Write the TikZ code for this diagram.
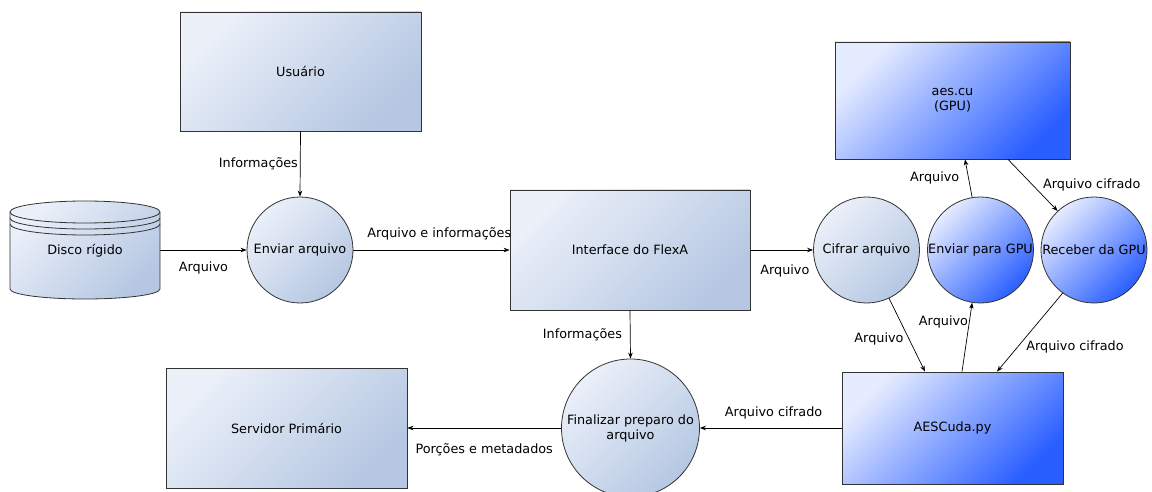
\documentclass[tikz,border=0pt]{standalone}
\usepackage{fontspec}
\setmainfont{DejaVu Sans}
\usetikzlibrary{arrows.meta}
\definecolor{paleA}{HTML}{EBF0F9}
\definecolor{paleB}{HTML}{B5C7E2}
\definecolor{blueA}{HTML}{E6ECFF}
\definecolor{blueB}{HTML}{2A5FFF}
\definecolor{edge}{HTML}{333333}
\tikzset{
  txt/.style={font=\fontsize{12.8}{15}\selectfont},
  palebox/.style={txt, rectangle, draw=edge, line width=0.8pt, top color=paleA, bottom color=paleB, shading angle=45, inner sep=0pt},
  bluebox/.style={txt, rectangle, draw=edge, line width=0.8pt, top color=blueA, bottom color=blueB, shading angle=45, inner sep=0pt},
  paleproc/.style={palebox, circle},
  blueproc/.style={bluebox, circle},
  flow/.style={-{Stealth[length=6pt,width=4.5pt]}, line width=0.7pt, draw=black},
  lbl/.style={txt, inner sep=1pt}
}
\begin{document}
\begin{tikzpicture}[x=1pt,y=-1pt]
\useasboundingbox (0,0) rectangle (1152,492);

% boxes
\node[palebox, minimum width=241pt, minimum height=119pt] (user) at (300.5,71.5) {Usuário};
\node[palebox, minimum width=240pt, minimum height=120pt] (flexa) at (630,250) {Interface do FlexA};
\node[palebox, minimum width=241pt, minimum height=120pt] (server) at (286.5,428) {Servidor Primário};
\node[bluebox, minimum width=235pt, minimum height=117pt, align=center] (aescu) at (952.5,100.5) {aes.cu\\(GPU)};
\node[bluebox, minimum width=221pt, minimum height=112pt] (aespy) at (952.5,428) {AESCuda.py};

% processes
\node[paleproc, minimum size=106pt] (send) at (300,250) {Enviar arquivo};
\node[paleproc, minimum size=106pt] (cipher) at (866.5,250) {Cifrar arquivo};
\node[blueproc, minimum size=106pt] (togpu) at (980.5,250) {Enviar para GPU};
\node[blueproc, minimum size=106pt] (fromgpu) at (1094,250) {Receber da GPU};
\node[paleproc, minimum size=138pt, align=center] (final) at (630.5,428) {Finalizar preparo do\\arquivo};

% hard disk drawn as a cylinder with two rings under the lid
\shade[top color=paleA, bottom color=paleB, shading angle=45]
  (10,212) -- (10,289) arc[start angle=180, end angle=360, x radius=75pt, y radius=10pt]
  -- (160,212) arc[start angle=0, end angle=180, x radius=75pt, y radius=11pt] -- cycle;
\draw[edge, line width=0.8pt]
  (10,212) -- (10,289) arc[start angle=180, end angle=360, x radius=75pt, y radius=10pt] -- (160,212);
\draw[edge, line width=0.8pt] (85,212) ellipse[x radius=75pt, y radius=11pt];
\draw[edge, line width=0.8pt] (10,218) arc[start angle=180, end angle=360, x radius=75pt, y radius=11pt];
\draw[edge, line width=0.8pt] (10,224) arc[start angle=180, end angle=360, x radius=75pt, y radius=11pt];
\node[txt, minimum width=150pt, minimum height=100pt] (disk) at (85,251) {Disco rígido};

% attachment points on the top edges of the boxes
\coordinate (pyIn)   at ([xshift=-27.5pt]aespy.north);
\coordinate (pyOut)  at ([xshift=9.5pt]aespy.north);
\coordinate (pyBack) at ([xshift=44.5pt]aespy.north);
\coordinate (cuIn)   at ([xshift=12.5pt]aescu.south);
\coordinate (cuOut)  at ([xshift=55.5pt]aescu.south);

% flows
\draw[flow] (user.south) -- (send.north) node[lbl, pos=0.5, left=1pt] {Informações};
\draw[flow] (disk.east |- send.west) -- (send.west) node[lbl, pos=0.5, below=10pt] {Arquivo};
\draw[flow] (send.east) -- (flexa.west) node[lbl, pos=0.55, above=8pt] {Arquivo e informações};
\draw[flow] (flexa.east) -- (cipher.west) node[lbl, pos=0.55, below=13pt] {Arquivo};
\draw[flow] (flexa.south) -- (final.north) node[lbl, pos=0.5, left=7pt] {Informações};
\draw[flow] (cipher.-65) -- (pyIn) node[lbl, pos=0.55, left=4pt] {Arquivo};
\draw[flow] (pyOut) -- (togpu.-99) node[lbl, pos=0.72, left=0pt] {Arquivo};
\draw[flow] (togpu.99) -- (cuIn) node[lbl, pos=0.5, left=8pt] {Arquivo};
\draw[flow] (cuOut) -- (fromgpu.133) node[lbl, pos=0.5, right=9pt] {Arquivo cifrado};
\draw[flow] (fromgpu.-126) -- (pyBack) node[lbl, pos=0.68, right=7pt] {Arquivo cifrado};
\draw[flow] (aespy.west) -- (final.east) node[lbl, pos=0.48, above=7pt] {Arquivo cifrado};
\draw[flow] (final.west) -- (server.east) node[lbl, pos=0.5, below=14pt] {Porções e metadados};
\end{tikzpicture}
\end{document}
